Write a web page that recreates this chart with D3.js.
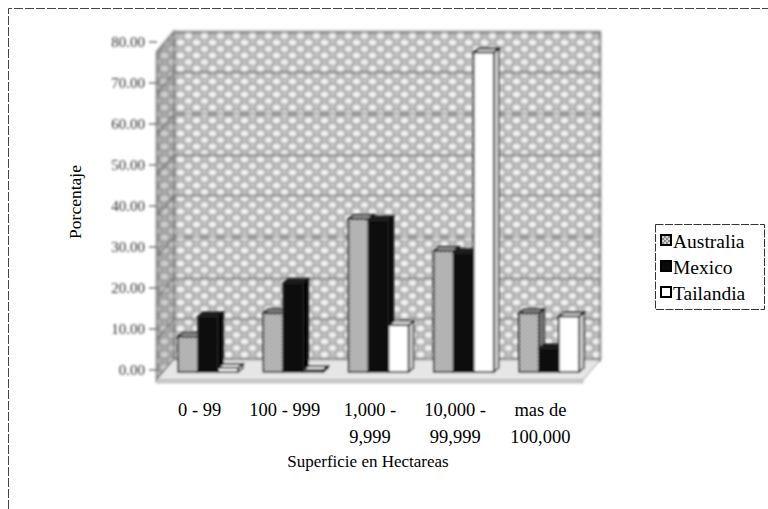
<!DOCTYPE html>
<html><head><meta charset="utf-8">
<script src="https://cdn.jsdelivr.net/npm/d3@7"></script>
<style>
html,body{margin:0;padding:0;background:#fff;overflow:hidden;}
svg{display:block;}
</style></head>
<body>
<svg id="chart" width="768" height="509"></svg>
<script>
// ---- data ----
const categories = ["0 - 99", "100 - 999", "1,000 - 9,999", "10,000 - 99,999", "mas de 100,000"];
const categoryLines = [["0 - 99"], ["100 - 999"], ["1,000 -", "9,999"], ["10,000 -", "99,999"], ["mas de", "100,000"]];
const seriesNames = ["Australia", "Mexico", "Tailandia"];
const australia = [8.6, 14.3, 37.3, 29.5, 14.3];
const mexico = [13.5, 21.7, 37.0, 29.0, 5.7];
const tailandia = [1.0, 0.5, 11.4, 77.9, 13.5];
const yTicks = [0, 10, 20, 30, 40, 50, 60, 70, 80];
const yTickLabels = ["0.00", "10.00", "20.00", "30.00", "40.00", "50.00", "60.00", "70.00", "80.00"];
const yTitle = "Porcentaje";
const xTitle = "Superficie en Hectareas";

const seriesValues = [australia, mexico, tailandia];
const FONT = "'Liberation Serif', 'DejaVu Serif', serif";

const svg = d3.select("#chart");
const defs = svg.append("defs");

// wall texture
const wp = defs.append("pattern").attr("id", "wallTex").attr("patternUnits", "userSpaceOnUse")
  .attr("width", 16).attr("height", 13);
wp.append("rect").attr("width", 16).attr("height", 13).attr("fill", "#a6a6a6");
wp.append("ellipse").attr("cx", 4.5).attr("cy", 3.5).attr("rx", 4).attr("ry", 3).attr("fill", "#f6f6f6");
wp.append("ellipse").attr("cx", 12.5).attr("cy", 10).attr("rx", 4).attr("ry", 3).attr("fill", "#f2f2f2");
wp.append("ellipse").attr("cx", 12.5).attr("cy", 3).attr("rx", 2).attr("ry", 1.5).attr("fill", "#dadada");
wp.append("ellipse").attr("cx", 4.5).attr("cy", 10).attr("rx", 2).attr("ry", 1.5).attr("fill", "#d6d6d6");

// australia texture
const ap = defs.append("pattern").attr("id", "ausTex").attr("patternUnits", "userSpaceOnUse")
  .attr("width", 4).attr("height", 4);
ap.append("rect").attr("width", 4).attr("height", 4).attr("fill", "#d2d2d2");
ap.append("rect").attr("width", 2).attr("height", 2).attr("fill", "#8a8a8a");
ap.append("rect").attr("x", 2).attr("y", 2).attr("width", 2).attr("height", 2).attr("fill", "#8a8a8a");

const blurW = defs.append("filter").attr("id", "softW").attr("x", "-5%").attr("y", "-5%").attr("width", "110%").attr("height", "110%");
blurW.append("feGaussianBlur").attr("stdDeviation", 1.4);
const blur = defs.append("filter").attr("id", "soft").attr("x", "-5%").attr("y", "-5%").attr("width", "110%").attr("height", "110%");
blur.append("feGaussianBlur").attr("stdDeviation", 0.8);
const blurT = defs.append("filter").attr("id", "softT").attr("x", "-10%").attr("y", "-30%").attr("width", "120%").attr("height", "160%");
blurT.append("feGaussianBlur").attr("stdDeviation", 0.9);

// outer dashed border (top + left visible only)
svg.append("path").attr("d", "M8.5,509 L8.5,8.5 L768,8.5")
  .attr("fill", "none").attr("stroke", "#444").attr("stroke-width", 1).attr("stroke-dasharray", "9,2");

// ---- 3D geometry ----
const DX = 17, DY = -20;
const frontX0 = 157, frontX1 = 583, frontBase = 380;
const x = d3.scaleBand().domain(categories).range([frontX0, frontX1]).padding(0);
const yPix = 4.1;
const yFront = d3.scaleLinear().domain([0, 80]).range([frontBase, frontBase - 80 * yPix]);
const yBack = v => yFront(v) + DY;
const yMid = v => yFront(v) + DY / 2;
const xBack = px => px + DX;
const bwX0 = xBack(frontX0), bwX1 = xBack(frontX1);

const walls = svg.append("g").attr("filter", "url(#softW)");
walls.append("rect").attr("x", bwX0).attr("y", yBack(80)).attr("width", bwX1 - bwX0)
  .attr("height", yBack(0) - yBack(80)).attr("fill", "url(#wallTex)").attr("stroke", "#6a6a6a").attr("stroke-width", 2);
walls.append("path").attr("d", `M${frontX0},${yFront(0)} L${frontX0},${yFront(80)} L${bwX0},${yBack(80)} L${bwX0},${yBack(0)} Z`)
  .attr("fill", "url(#wallTex)").attr("stroke", "#6a6a6a").attr("stroke-width", 2);
walls.append("path").attr("d", `M${frontX0},${yFront(0)} L${frontX0},${yFront(80)} L${bwX0},${yBack(80)} L${bwX0},${yBack(0)} Z`)
  .attr("fill", "#777").attr("opacity", 0.3);
yTicks.forEach(t => {
  walls.append("path")
    .attr("d", `M${frontX0},${yFront(t)} L${bwX0},${yBack(t)} L${bwX1},${yBack(t)}`)
    .attr("fill", "none").attr("stroke", "#6f6f6f").attr("stroke-width", 1.6);
});

const plot = svg.append("g").attr("filter", "url(#soft)");
// floor
plot.append("path").attr("d", `M${frontX0},${yFront(0)} L${frontX1},${yFront(0)} L${bwX1},${yBack(0)} L${bwX0},${yBack(0)} Z`)
  .attr("fill", "#e6e6e6").attr("stroke", "#999").attr("stroke-width", 1);
plot.append("path").attr("d", `M${frontX0},${yFront(0)} L${frontX1},${yFront(0)} L${frontX1},${yFront(0) + 3} L${frontX0},${yFront(0) + 3} Z`)
  .attr("fill", "#d2d2d2").attr("stroke", "#aaa").attr("stroke-width", 0.8);

// bars
const barW = 20, bdx = 5, bdy = -4;
const fills = ["url(#ausTex)", "#0a0a0a", "#ffffff"];
const sideFills = ["#7a7a7a", "#000", "#cfcfcf"];
const topFills = ["#9a9a9a", "#222", "#e8e8e8"];
categories.forEach((c, ci) => {
  const gx = x(c) + x.bandwidth() / 2 + DX / 2 - (barW * 3) / 2;
  seriesValues.forEach((vals, si) => {
    const v = vals[ci];
    const bx = gx + si * barW;
    const by0 = yMid(0) + 2, by1 = yMid(v) + 2;
    const g = plot.append("g");
    g.append("path").attr("d", `M${bx + barW},${by0} L${bx + barW},${by1} L${bx + barW + bdx},${by1 + bdy} L${bx + barW + bdx},${by0 + bdy} Z`)
      .attr("fill", sideFills[si]).attr("stroke", "#222").attr("stroke-width", 1.4);
    g.append("path").attr("d", `M${bx},${by1} L${bx + bdx},${by1 + bdy} L${bx + barW + bdx},${by1 + bdy} L${bx + barW},${by1} Z`)
      .attr("fill", topFills[si]).attr("stroke", "#111").attr("stroke-width", 1.6);
    g.append("rect").attr("x", bx).attr("y", by1).attr("width", barW).attr("height", by0 - by1)
      .attr("fill", fills[si]).attr("stroke", "#222").attr("stroke-width", 1.6);
  });
});

// y tick labels + tick marks
const tickG = svg.append("g").attr("filter", "url(#softT)");
yTicks.forEach((t, i) => {
  const ty = yMid(t);
  tickG.append("line").attr("x1", frontX0 - 8).attr("x2", frontX0).attr("y1", ty).attr("y2", ty)
    .attr("stroke", "#555").attr("stroke-width", 1.2);
  tickG.append("text").attr("x", frontX0 - 12).attr("y", ty).attr("dy", "0.35em")
    .attr("text-anchor", "end").attr("font-family", FONT).attr("font-size", 15).attr("fill", "#333").text(yTickLabels[i]);
});

// x labels
categories.forEach((c, ci) => {
  const cx = x(c) + x.bandwidth() / 2;
  categoryLines[ci].forEach((ln, li) => {
    svg.append("text").attr("x", cx).attr("y", 416 + li * 27).attr("text-anchor", "middle")
      .attr("font-family", FONT).attr("font-size", 18.5).attr("fill", "#000").text(ln);
  });
});

// axis titles
svg.append("text").attr("x", 368).attr("y", 467).attr("text-anchor", "middle")
  .attr("font-family", FONT).attr("font-size", 17).attr("fill", "#000").text(xTitle);
svg.append("text").attr("transform", "translate(81,202) rotate(-90)").attr("text-anchor", "middle")
  .attr("font-family", FONT).attr("font-size", 17.5).attr("fill", "#000").text(yTitle);

// legend
const lg = svg.append("g");
lg.append("rect").attr("x", 655.5).attr("y", 224.5).attr("width", 109).attr("height", 85)
  .attr("fill", "#fff").attr("stroke", "#333").attr("stroke-width", 1).attr("stroke-dasharray", "8,1.5");
const legFills = ["url(#ausTex)", "#0a0a0a", "#ffffff"];
seriesNames.forEach((n, i) => {
  const ly = 241 + i * 26;
  lg.append("rect").attr("x", 661).attr("y", ly - 6).attr("width", 10).attr("height", 10)
    .attr("fill", legFills[i]).attr("stroke", "#000").attr("stroke-width", 2);
  lg.append("text").attr("x", 673).attr("y", ly).attr("dy", "0.35em")
    .attr("font-family", FONT).attr("font-size", 19.5).attr("fill", "#000").text(n);
});
</script>
</body></html>
